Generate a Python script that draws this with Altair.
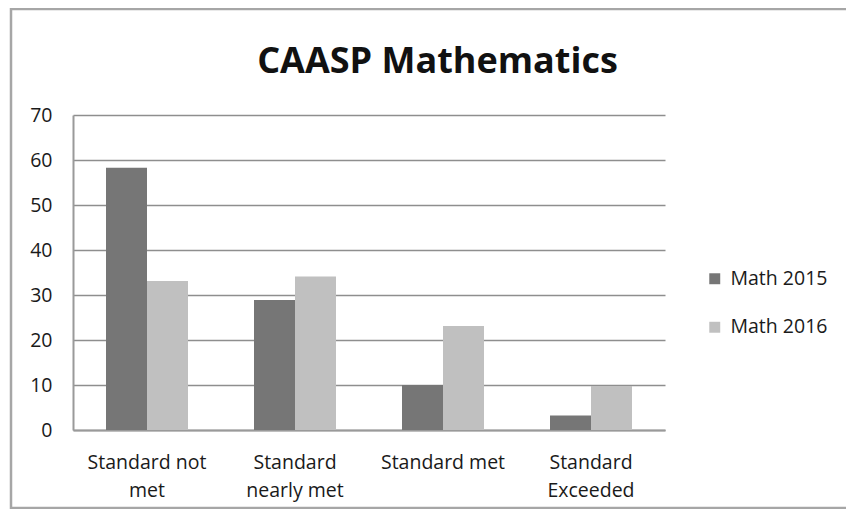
import json
import altair as alt
import pandas as pd

categories = ["Standard not met", "Standard nearly met", "Standard met", "Standard Exceeded"]
category_lines = [["Standard not", "met"], ["Standard", "nearly met"], ["Standard met"], ["Standard", "Exceeded"]]
series = ["Math 2015", "Math 2016"]
math_2015 = [58.3, 28.9, 10.0, 3.2]
math_2016 = [33.1, 34.1, 23.1, 9.8]
colors = ["#767676", "#c0c0c0"]
y_ticks = [0, 10, 20, 30, 40, 50, 60, 70]
chart_title = "CAASP Mathematics"

rows = []
for c, a, b in zip(categories, math_2015, math_2016):
    rows.append({"category": c, "series": series[0], "value": a})
    rows.append({"category": c, "series": series[1], "value": b})
df = pd.DataFrame(rows)

label_expr = ""
for c, lines in zip(categories, category_lines):
    label_expr += f"datum.value == {json.dumps(c)} ? {json.dumps(lines)} : "
label_expr += "datum.label"

FONT = "Open Sans"
W, H = 592, 315
LBL = 19.5

bars = alt.Chart(df).mark_bar().encode(
    x=alt.X("category:N", sort=categories, title=None,
            scale=alt.Scale(paddingInner=0.446, paddingOuter=0.223),
            axis=alt.Axis(labelExpr=label_expr, labelAngle=0, ticks=False,
                          labelPadding=23, labelLineHeight=28, labelFontSize=LBL,
                          labelColor="#1a1a1a", domainColor="#9a9a9a", domainWidth=2,
                          labelFont=FONT)),
    xOffset=alt.XOffset("series:N", sort=series, scale=alt.Scale(paddingInner=0, paddingOuter=0)),
    y=alt.Y("value:Q", title=None,
            scale=alt.Scale(domain=[0, 70], nice=False),
            axis=alt.Axis(values=y_ticks, ticks=False, labelPadding=21, labelFontSize=LBL,
                          labelColor="#1a1a1a", labelFont=FONT,
                          domainColor="#9a9a9a", domainWidth=2,
                          grid=True, gridColor="#8e8e8e", gridWidth=1.6)),
    color=alt.Color("series:N", sort=series, title=None,
                    scale=alt.Scale(domain=series, range=colors),
                    legend=alt.Legend(orient="none", legendX=632, legendY=154,
                                      symbolType="square", symbolSize=120,
                                      symbolStrokeWidth=0, labelFontSize=LBL,
                                      labelFont=FONT, labelColor="#1a1a1a",
                                      labelOffset=6, rowPadding=27.5, padding=0)),
)

frame = alt.Chart(pd.DataFrame({"k": [0]})).mark_rect(
    fill=None, stroke="#a6a6a6", strokeWidth=2.5
).encode(
    x=alt.value(-62), x2=alt.value(W + 200),
    y=alt.value(-106), y2=alt.value(H + 78),
)

title = alt.Chart(pd.DataFrame({"t": [chart_title]})).mark_text(
    font=FONT, fontSize=36, fontWeight="bold", color="#111111",
    align="center", baseline="alphabetic"
).encode(
    text="t:N", x=alt.value(364.5), y=alt.value(-42),
)

chart = alt.layer(frame, bars, title).properties(
    width=W, height=H,
    autosize=alt.AutoSizeParams(type="none"),
    padding={"left": 65, "top": 107, "right": 181, "bottom": 79},
).configure_view(stroke=None)

chart.save("out.html", embed_options={"renderer": "svg", "actions": False})
